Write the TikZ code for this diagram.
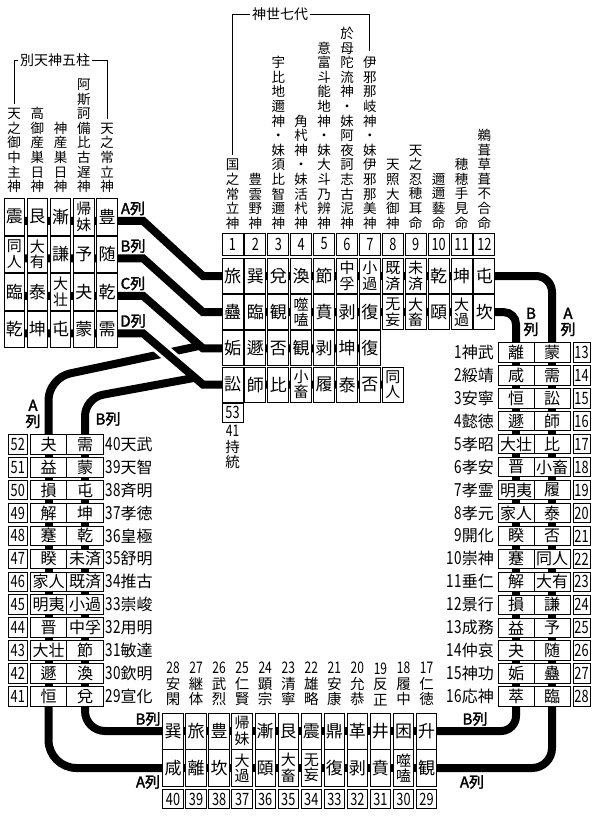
\documentclass[tikz,border=0pt]{standalone}
\usepackage{fontspec}
\newfontfamily\jp{Noto Sans CJK JP}[AutoFakeBold=2]
\newfontfamily\numf{Noto Sans CJK JP}[FakeStretch=0.75]
\usetikzlibrary{backgrounds}
\tikzset{
  bx/.style={draw, line width=0.9pt, fill=white, inner sep=0pt, align=center},
  tbox/.style={bx, minimum width=20.5pt, minimum height=36.5pt, font=\jp\fontsize{17}{17}\selectfont},
  mbox/.style={bx, minimum width=21pt, minimum height=35pt, font=\jp\fontsize{17}{17}\selectfont},
  two/.style={font=\jp\fontsize{15}{15.5}\selectfont},
  wbox/.style={bx, minimum width=36pt, minimum height=19.5pt, font=\jp\fontsize{16}{16}\selectfont},
  nbox/.style={bx, font=\numf\fontsize{17}{17}\selectfont},
  vlab/.style={inner sep=0pt, align=center, anchor=south, font=\jp\fontsize{13.5}{14.6}\selectfont},
  blab/.style={inner sep=0pt, align=center, anchor=south, font=\jp\fontsize{14.5}{15.5}\selectfont},
  elab/.style={inner sep=0pt, font=\jp\fontsize{16}{16}\selectfont},
  rlab/.style={inner sep=0pt, align=center, font=\jp\bfseries\fontsize{15}{16}\selectfont},
  brk/.style={line width=1pt},
  btitle/.style={inner sep=0pt, inner xsep=2pt, font=\jp\fontsize{14}{14}\selectfont},
}
\newcommand\TL[4][]{\node[tbox,#1] (tl-#3-#2) at ({14.25+23.2*(#2-1)},{216.75+37.5*(#3-1)}) {#4};}
\newcommand\MG[4][]{\node[mbox,#1] (m-#3-#2) at ({232.5+22.9*(#2-1)},{276+36.2*(#3-1)}) {#4};}
\newcommand\RG[3]{%
  \node[wbox] (rB-#1) at (516,{352.3+22.95*(#1-13)}) {#2};
  \node[wbox] (rA-#1) at (552,{352.3+22.95*(#1-13)}) {#3};}
\newcommand\LL[3]{%
  \node[wbox,minimum width=36.5pt] (lA-#1) at (48.5,{444.3+22.9*(52-#1)}) {#2};
  \node[wbox,minimum width=36.5pt] (lB-#1) at (85,{444.3+22.9*(52-#1)}) {#3};}
\newcommand\BT[3][]{\node[tbox,minimum height=36pt,#1] (bT-#2) at ({173+23.05*(#2-1)},731) {#3};}
\newcommand\BB[3][]{\node[tbox,minimum height=37pt,#1] (bB-#2) at ({173+23.05*(#2-1)},768) {#3};}
\begin{document}
\begin{tikzpicture}[x=1pt,y=-1pt]
\useasboundingbox (0,0) rectangle (600,820);
% ---------- top-left grid ----------
\TL{1}{1}{震} \TL{2}{1}{艮} \TL{3}{1}{漸} \TL[two]{4}{1}{帰\\妹} \TL{5}{1}{豊}
\TL[two]{1}{2}{同\\人} \TL[two]{2}{2}{大\\有} \TL{3}{2}{謙} \TL{4}{2}{予} \TL{5}{2}{随}
\TL{1}{3}{臨} \TL{2}{3}{泰} \TL[two]{3}{3}{大\\壮} \TL{4}{3}{夬} \TL{5}{3}{乾}
\TL{1}{4}{乾} \TL{2}{4}{坤} \TL{3}{4}{屯} \TL{4}{4}{蒙} \TL{5}{4}{需}
\node[vlab] (tlab1) at (14.25,193) {天\\之\\御\\中\\主\\神};
\node[vlab] (tlab2) at (37.45,193) {高\\御\\産\\巣\\日\\神};
\node[vlab] (tlab3) at (60.65,193) {神\\産\\巣\\日\\神};
\node[vlab] (tlab4) at (83.85,193) {阿\\斯\\訶\\備\\比\\古\\遅\\神};
\node[vlab] (tlab5) at (107.05,193) {天\\之\\常\\立\\神};
\node[btitle] (bt1) at (55,60) {別天神五柱};
\draw[brk] ([yshift=4pt]tlab1.north) |- (bt1.west);
\draw[brk] ([yshift=4pt]tlab5.north) |- (bt1.east);
\node[rlab] (lbA1) at (133,208.5) {A列};
\node[rlab] (lbB1) at (133,246) {B列};
\node[rlab] (lbC1) at (133,283.5) {C列};
\node[rlab] (lbD1) at (133,321) {D列};
% ---------- middle grid ----------
\foreach \i in {1,...,12} \node[nbox,minimum width=21pt,minimum height=22pt] (mn\i) at ({232.5+22.9*(\i-1)},244) {\i};
\MG{1}{1}{旅} \MG{2}{1}{巽} \MG{3}{1}{兌} \MG{4}{1}{渙} \MG{5}{1}{節} \MG[two]{6}{1}{中\\孚} \MG[two]{7}{1}{小\\過} \MG[two]{8}{1}{既\\済} \MG[two]{9}{1}{未\\済} \MG{10}{1}{乾} \MG{11}{1}{坤} \MG{12}{1}{屯}
\MG{1}{2}{蠱} \MG{2}{2}{臨} \MG{3}{2}{観} \MG[two]{4}{2}{噬\\嗑} \MG{5}{2}{賁} \MG{6}{2}{剥} \MG{7}{2}{復} \MG[two]{8}{2}{无\\妄} \MG[two]{9}{2}{大\\畜} \MG{10}{2}{頤} \MG[two]{11}{2}{大\\過} \MG{12}{2}{坎}
\MG{1}{3}{姤} \MG{2}{3}{遯} \MG{3}{3}{否} \MG{4}{3}{観} \MG{5}{3}{剥} \MG{6}{3}{坤} \MG{7}{3}{復}
\MG{1}{4}{訟} \MG{2}{4}{師} \MG{3}{4}{比} \MG[two]{4}{4}{小\\畜} \MG{5}{4}{履} \MG{6}{4}{泰} \MG{7}{4}{否} \MG[two]{8}{4}{同\\人}
\node[nbox,minimum width=21pt,minimum height=19pt] (n53) at (232.5,412.5) {53};
\node[blab,anchor=north] (jito) at (232.5,425) {{\numf\fontsize{16}{16}\selectfont 41}\\持\\統};
\node[vlab] (ml1) at (232.5,229.5) {国\\之\\常\\立\\神};
\node[vlab] (ml2) at (255.4,229.5) {豊\\雲\\野\\神};
\node[vlab] (ml3) at (278.3,229.5) {宇\\比\\地\\邇\\神\\・\\妹\\須\\比\\智\\邇\\神};
\node[vlab] (ml4) at (301.2,229.5) {角\\杙\\神\\・\\妹\\活\\杙\\神};
\node[vlab] (ml5) at (324.1,229.5) {意\\富\\斗\\能\\地\\神\\・\\妹\\大\\斗\\乃\\辨\\神};
\node[vlab] (ml6) at (347,229.5) {於\\母\\陀\\流\\神\\・\\妹\\阿\\夜\\訶\\志\\古\\泥\\神};
\node[vlab] (ml7) at (369.9,229.5) {伊\\邪\\那\\岐\\神\\・\\妹\\伊\\邪\\那\\美\\神};
\node[vlab] (ml8) at (392.8,229.5) {天\\照\\大\\御\\神};
\node[vlab] (ml9) at (415.7,229.5) {天\\之\\忍\\穂\\耳\\命};
\node[vlab] (ml10) at (438.6,229.5) {邇\\邇\\藝\\命};
\node[vlab] (ml11) at (461.5,229.5) {穂\\穂\\手\\見\\命};
\node[vlab] (ml12) at (484.4,229.5) {鵜\\葺\\草\\葺\\不\\合\\命};
\node[btitle] (bt2) at (280,14) {神世七代};
\draw[brk] ([yshift=4pt]ml1.north) |- (bt2.west);
\draw[brk] ([yshift=5pt]ml7.north) |- (bt2.east);
% ---------- right grid ----------
\RG{13}{離}{蒙} \RG{14}{咸}{需} \RG{15}{恒}{訟} \RG{16}{遯}{師}
\RG{17}{大壮}{比} \RG{18}{晋}{小畜} \RG{19}{明夷}{履} \RG{20}{家人}{泰}
\RG{21}{睽}{否} \RG{22}{蹇}{同人} \RG{23}{解}{大有} \RG{24}{損}{謙}
\RG{25}{益}{予} \RG{26}{夬}{随} \RG{27}{姤}{蠱} \RG{28}{萃}{臨}
\foreach \k in {13,...,28} \node[nbox,minimum width=17pt,minimum height=19.5pt] (rn\k) at (581.5,{352.3+22.95*(\k-13)}) {\k};
\foreach \n/\nm [count=\i from 0] in {1/神武,2/綏靖,3/安寧,4/懿徳,5/孝昭,6/孝安,7/孝霊,8/孝元,9/開化,10/崇神,11/垂仁,12/景行,13/成務,14/仲哀,15/神功,16/応神}
  \node[elab,anchor=east] (er\n) at (494,{352.3+22.95*\i}) {{\numf\fontsize{18}{18}\selectfont\n}\nm};
\node[rlab] (lbB2) at (531,322) {B\\列};
\node[rlab] (lbA2) at (568,322) {A\\列};
% ---------- lower-left grid ----------
\LL{52}{夬}{需} \LL{51}{益}{蒙} \LL{50}{損}{屯} \LL{49}{解}{坤}
\LL{48}{蹇}{乾} \LL{47}{睽}{未済} \LL{46}{家人}{既済} \LL{45}{明夷}{小過}
\LL{44}{晋}{中孚} \LL{43}{大壮}{節} \LL{42}{遯}{渙} \LL{41}{恒}{兌}
\foreach \k in {41,...,52} \node[nbox,minimum width=19.5pt,minimum height=19.5pt] (ln\k) at (17.75,{444.3+22.9*(52-\k)}) {\k};
\foreach \n/\nm [count=\i from 0] in {40/天武,39/天智,38/斉明,37/孝徳,36/皇極,35/舒明,34/推古,33/崇峻,32/用明,31/敏達,30/欽明,29/宣化}
  \node[elab,anchor=west] (el\n) at (105.5,{444.3+22.9*\i}) {{\numf\fontsize{18}{18}\selectfont\n}\nm};
\node[rlab] (lbA3) at (33,414) {A\\列};
\node[rlab] (lbB3) at (108,419) {B列};
% ---------- bottom grid ----------
\BT{1}{巽} \BT{2}{旅} \BT{3}{豊} \BT[two]{4}{帰\\妹} \BT{5}{漸} \BT{6}{艮} \BT{7}{震} \BT{8}{鼎} \BT{9}{革} \BT{10}{井} \BT{11}{困} \BT{12}{升}
\BB{1}{咸} \BB{2}{離} \BB{3}{坎} \BB[two]{4}{大\\過} \BB{5}{頤} \BB[two]{6}{大\\畜} \BB[two]{7}{无\\妄} \BB{8}{復} \BB{9}{剥} \BB{10}{賁} \BB[two]{11}{噬\\嗑} \BB{12}{観}
\foreach \n [count=\i from 0] in {40,39,38,37,36,35,34,33,32,31,30,29}
  \node[nbox,minimum width=20.5pt,minimum height=19pt] (bn\n) at ({173+23.05*\i},799) {\n};
\foreach \n/\ca/\cb [count=\i from 0] in {28/安/閑,27/継/体,26/武/烈,25/仁/賢,24/顕/宗,23/清/寧,22/雄/略,21/安/康,20/允/恭,19/反/正,18/履/中,17/仁/徳}
  \node[blab] (bl\n) at ({173+23.05*\i},706) {{\numf\fontsize{16}{16}\selectfont\n}\\\ca\\\cb};
\node[rlab] (lbB4) at (148,719) {B列};
\node[rlab] (lbA4) at (148,782) {A列};
\node[rlab] (lbB5) at (475,719) {B列};
\node[rlab] (lbA5) at (472,782) {A列};
% ---------- chains ----------
\begin{scope}[on background layer]
\begin{scope}[line width=8pt]
\draw ([yshift=-4pt]tl-1-1.center) -- (143,220.75) -- (203,276) -- (m-1-12.center);
\draw ([yshift=-4pt]tl-2-1.center) -- (143,258.25) -- (203,312.2) -- (m-2-12.center);
\draw ([yshift=-4pt]tl-3-1.center) -- (143,295.75) -- (203,348.4) -- (m-3-7.center);
\draw[rounded corners=16pt] (m-1-12.center) -- (552,276) -- (rA-13.center);
\draw[rounded corners=12pt] (m-2-12.center) -- (516,312.2) -- (rB-13.center);
\draw (rA-13.center) -- (rA-28.center);
\draw (rB-13.center) -- (rB-28.center);
\draw[rounded corners=15pt] (rB-28.center) -- (516,731) -- (bT-12.center);
\draw[rounded corners=20pt] (rA-28.center) -- (552,768) -- (bB-12.center);
\draw (bT-12.center) -- (bT-1.center);
\draw (bB-12.center) -- (bB-1.center);
\draw[rounded corners=20pt] (bT-1.center) -- (85,731) -- (lB-41.center);
\draw[rounded corners=28pt] (bB-1.center) -- (48.5,768) -- (lA-41.center);
\draw (lA-41.center) -- (lA-52.center);
\draw (lB-41.center) -- (lB-52.center);
\draw[rounded corners=22pt] (lA-52.center) -- (48.5,378) -- (200,345.8);
\draw[rounded corners=18pt] (lB-52.center) -- (85,398) -- (195,377.75);
\draw[white, line width=14pt] (157,345.23) -- (175,360.64);
\draw ([yshift=-4pt]tl-4-1.center) -- (143,333.25) -- (203,384.6) -- (m-4-8.center);
\end{scope}
\end{scope}
\end{tikzpicture}
\end{document}
